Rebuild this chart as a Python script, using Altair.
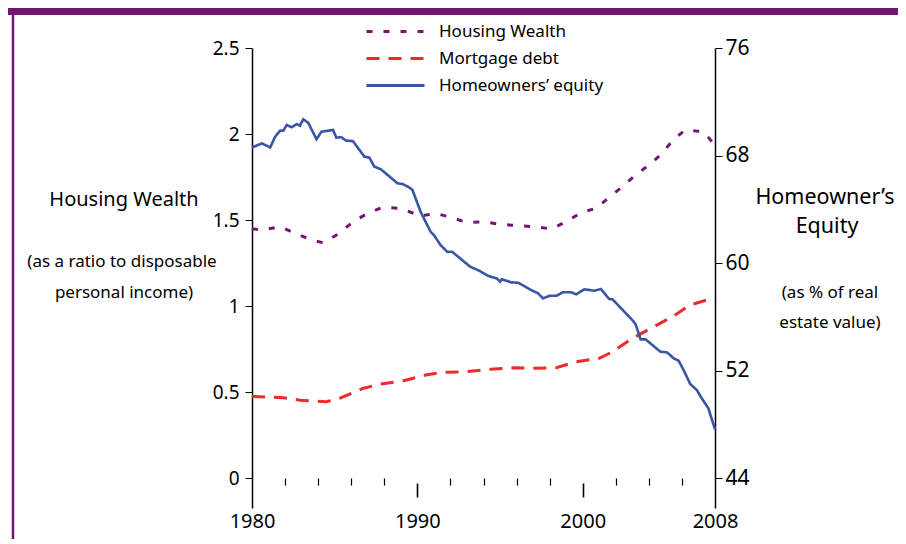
import altair as alt
import pandas as pd

FONT = "Noto Sans"
SERIES = ["Housing Wealth", "Mortgage debt", "Homeowners\u2019 equity"]
COLORS = ["#74166F", "#EE2B2B", "#3A55A6"]
DASHES = [[6, 11], [13, 9], [1, 0]]

hw_years = [1980.0, 1980.6, 1981.7, 1982.6, 1983.6, 1984.3, 1985.3, 1986.1, 1987.0, 1987.9,
            1989.0, 1990.2, 1991.1, 1992.0, 1993.0, 1994.0, 1995.0, 1996.1, 1997.1, 1998.1,
            1999.0, 1999.9, 2000.8, 2001.6, 2002.4, 2003.2, 2004.1, 2004.8, 2005.5, 2006.2,
            2007.3, 2008.0]
hw_vals = [1.45, 1.442, 1.461, 1.423, 1.384, 1.368, 1.423, 1.490, 1.539, 1.574,
           1.568, 1.523, 1.539, 1.516, 1.486, 1.490, 1.475, 1.467, 1.461, 1.448,
           1.490, 1.543, 1.568, 1.632, 1.694, 1.762, 1.826, 1.888, 1.969, 2.023,
           2.013, 1.936]

md_years = [1980.0, 1981.9, 1982.9, 1984.5, 1985.3, 1986.7, 1987.7, 1989.1, 1990.5, 1991.5,
            1992.9, 1994.4, 1995.8, 1997.0, 1998.4, 1999.6, 2001.0, 2001.8, 2003.0, 2004.0,
            2005.5, 2006.5, 2007.5, 2008.0]
md_vals = [0.475, 0.467, 0.453, 0.444, 0.463, 0.521, 0.545, 0.564, 0.599, 0.614,
           0.618, 0.632, 0.641, 0.638, 0.641, 0.676, 0.696, 0.734, 0.812, 0.864,
           0.942, 1.006, 1.035, 1.039]

eq_years = [1980.0, 1980.6, 1981.1, 1981.4, 1981.7, 1981.9, 1982.1, 1982.4, 1982.7, 1982.9,
            1983.1, 1983.4, 1983.9, 1984.2, 1984.9, 1985.1, 1985.4, 1985.7, 1986.1, 1986.8,
            1987.1, 1987.4, 1987.8, 1988.8, 1989.1, 1989.5, 1989.7, 1990.2, 1990.8, 1991.0,
            1991.4, 1991.8, 1992.1, 1993.2, 1993.7, 1994.3, 1994.8, 1995.0, 1995.1, 1995.7,
            1996.1, 1996.8, 1997.3, 1997.6, 1998.0, 1998.4, 1998.8, 1999.3, 1999.6, 2000.1,
            2000.7, 2001.1, 2001.6, 2001.8, 2003.0, 2003.2, 2003.5, 2003.8, 2004.7, 2005.1,
            2005.5, 2005.8, 2006.1, 2006.5, 2006.9, 2007.2, 2007.6, 2008.0]
eq_vals = [68.6, 68.9, 68.6, 69.4, 69.85, 69.85, 70.27, 70.10, 70.34, 70.22,
           70.69, 70.44, 69.21, 69.77, 69.90, 69.33, 69.36, 69.10, 69.08, 67.91,
           67.84, 67.17, 66.97, 65.93, 65.88, 65.63, 65.45, 63.80, 62.33, 62.08,
           61.34, 60.84, 60.84, 59.72, 59.45, 59.03, 58.86, 58.61, 58.79, 58.56,
           58.53, 58.04, 57.74, 57.37, 57.56, 57.56, 57.82, 57.82, 57.67, 58.04,
           57.94, 58.07, 57.32, 57.30, 55.76, 55.44, 54.32, 54.32, 53.40, 53.35,
           52.91, 52.73, 52.04, 51.00, 50.55, 49.93, 49.19, 47.62]

left_ticks = [0, 0.5, 1, 1.5, 2, 2.5]
right_ticks = [44, 52, 60, 68, 76]
year_labels = [1980, 1990, 2000, 2008]
minor_years = [1982, 1984, 1986, 1988, 1992, 1994, 1996, 1998, 2002, 2004, 2006]
major_years = [1990, 2000]

left_title = "Housing Wealth"
left_sub = ["(as a ratio to disposable", "personal income)"]
right_title = ["Homeowner\u2019s", "Equity"]
right_sub = ["(as % of real", "estate value)"]

W, H = 463, 460
PAD = {"left": 244, "top": 40, "right": 183, "bottom": 31}

hw_df = pd.DataFrame({"year": hw_years, "value": hw_vals, "series": SERIES[0]})
md_df = pd.DataFrame({"year": md_years, "value": md_vals, "series": SERIES[1]})
eq_df = pd.DataFrame({"year": eq_years, "value": eq_vals, "series": SERIES[2]})

xscale = alt.Scale(domain=[1980, 2008], nice=False, zero=False)
color = alt.Color("series:N", scale=alt.Scale(domain=SERIES, range=COLORS),
                  legend=alt.Legend(title=None, orient="none", legendX=113, legendY=-27,
                                    labelFontSize=17, labelFont=FONT, labelColor="black",
                                    labelLimit=400, clipHeight=21,
                                    symbolSize=3364, symbolStrokeWidth=3, labelOffset=13,
                                    rowPadding=6, symbolType="stroke"))
dash = alt.StrokeDash("series:N", scale=alt.Scale(domain=SERIES, range=DASHES), legend=None)

label_axis = alt.Axis(values=year_labels, format="d", ticks=False, domain=False, grid=False,
                      labelFontSize=20, labelPadding=3, labelFlush=False, labelOverlap=False,
                      title=None, orient="bottom")
minor_axis = alt.Axis(values=minor_years, labels=False, domain=False, grid=False, tickSize=7,
                      tickWidth=1.2, offset=-30, title=None, orient="bottom")
major_axis = alt.Axis(values=major_years, labels=False, domain=False, grid=False, tickSize=14,
                      tickWidth=1.6, offset=-25, title=None, orient="bottom")

left_scale = alt.Scale(domain=[-0.174, 2.5], nice=False, zero=False)
right_scale = alt.Scale(domain=[41.77, 76], nice=False, zero=False)

hw_line = alt.Chart(hw_df).mark_line(strokeWidth=3).encode(
    x=alt.X("year:Q", scale=xscale, axis=label_axis),
    y=alt.Y("value:Q", scale=left_scale,
            axis=alt.Axis(values=left_ticks, format="~g", orient="left", tickSize=7,
                          labelPadding=6, labelFontSize=19, grid=False, title=None)),
    color=color, strokeDash=dash)

md_line = alt.Chart(md_df).mark_line(strokeWidth=3).encode(
    x=alt.X("year:Q", scale=xscale, axis=minor_axis),
    y=alt.Y("value:Q", scale=left_scale, axis=None),
    color=color, strokeDash=dash)

eq_line = alt.Chart(eq_df).mark_line(strokeWidth=2.6).encode(
    x=alt.X("year:Q", scale=xscale, axis=major_axis),
    y=alt.Y("value:Q", scale=right_scale,
            axis=alt.Axis(values=right_ticks, orient="right", tickSize=7, labelPadding=3,
                          labelFontSize=21, grid=False, title=None)),
    color=color, strokeDash=dash)

one = pd.DataFrame({"k": [0]})


def text(s, x, y, size):
    return alt.Chart(one).mark_text(text=s, fontSize=size, font=FONT, align="center",
                                    baseline="middle", color="black").encode(
        x=alt.value(x), y=alt.value(y))


texts = [
    text(left_title, -128, 152, 20),
    text(left_sub[0], -130, 214, 17),
    text(left_sub[1], -128, 245, 17),
    text(right_title[0], 573, 150, 21.5),
    text(right_title[1], 575, 179, 21.5),
    text(right_sub[0], 578, 245, 17),
    text(right_sub[1], 578, 275, 17),
]

band = alt.Chart(one).mark_rect(color="#72156F").encode(
    x=alt.value(-244), x2=alt.value(W + 183), y=alt.value(-40), y2=alt.value(-33))
border = alt.Chart(one).mark_rule(color="#72156F", strokeWidth=2.5).encode(
    x=alt.value(-239), y=alt.value(-40), y2=alt.value(H + 31))

chart = alt.layer(hw_line, md_line, eq_line, band, border, *texts).resolve_scale(
    y="independent"
).resolve_axis(x="independent", y="independent").properties(
    width=W, height=H, padding=PAD, autosize=alt.AutoSizeParams(type="none"),
    background="white"
).configure_axis(
    domainColor="black", domainWidth=1.5, tickColor="black", labelColor="black",
    labelFont=FONT
).configure_view(stroke=None)

chart.save("out.html", embed_options={"renderer": "svg", "actions": False})
